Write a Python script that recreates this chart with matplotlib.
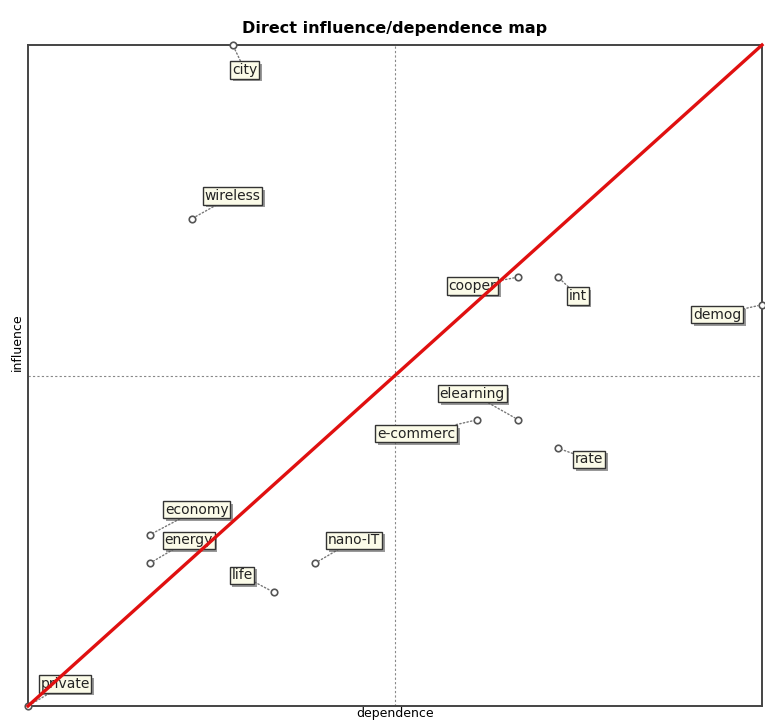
import matplotlib
matplotlib.use("Agg")
import matplotlib.pyplot as plt
import matplotlib.patheffects as pe

# variables, dependence (x) and influence (y)
names = ['city', 'wireless', 'cooper', 'int', 'demog', 'elearning', 'e-commerc',
         'rate', 'economy', 'energy', 'nano-IT', 'life', 'private']
dependence = [27.9, 22.3, 66.8, 72.2, 100.0, 66.8, 61.2, 72.2, 16.6, 16.6, 39.1, 33.5, 0.0]
influence = [100.0, 73.7, 64.9, 64.9, 60.7, 43.3, 43.3, 39.0, 25.9, 21.6, 21.6, 17.2, 0.0]

# label offsets in pixels relative to each point
offsets = [(12, -25), (41, 23), (-46, -9), (20, -19), (-45, -10), (-46, 26), (-61, -14),
           (31, -11), (47, 25), (39, 23), (39, 23), (-32, 17), (37, 22)]

fig = plt.figure(figsize=(7.65, 7.22), dpi=100)
ax = fig.add_axes([28 / 765, 16 / 722, 734 / 765, 661 / 722])

xmax = max(dependence)
ymax = max(influence)
ax.set_xlim(0, xmax)
ax.set_ylim(0, ymax)

ax.axvline(xmax / 2, color='#888888', ls=(0, (2, 2)), lw=0.8, zorder=1)
ax.axhline(ymax / 2, color='#888888', ls=(0, (2, 2)), lw=0.8, zorder=1)

ax.scatter(dependence, influence, s=22, facecolor='white', edgecolor='#555555',
           lw=1.2, zorder=4, clip_on=False)

for n, x, y, off in zip(names, dependence, influence, offsets):
    t = ax.annotate(n, (x, y), xytext=off, textcoords='offset pixels',
                    ha='center', va='center', fontsize=10, color='#222222',
                    bbox=dict(boxstyle='square,pad=0.12', fc='#fbfbe8', ec='#333333', lw=1.0),
                    arrowprops=dict(arrowstyle='-', ls=':', color='#777777', lw=1.0,
                                    shrinkA=0, shrinkB=3),
                    zorder=5, annotation_clip=False)
    t.get_bbox_patch().set_path_effects([
        pe.withSimplePatchShadow(offset=(2, -2), shadow_rgbFace='#555555', alpha=0.6)])

# diagonal
ax.plot([0, xmax], [0, ymax], color='#e01010', lw=2.4, zorder=6, clip_on=False)

for s in ax.spines.values():
    s.set_color('#444444')
    s.set_linewidth(1.4)
ax.set_xticks([])
ax.set_yticks([])

ax.set_title('Direct influence/dependence map', fontsize=11.5, fontweight='bold', pad=9)
ax.set_xlabel('dependence', fontsize=9, labelpad=1)
ax.set_ylabel('influence', fontsize=9, labelpad=2)
ax.yaxis.set_label_coords(-0.006, 0.55)

fig.savefig('out.png', dpi=100)
